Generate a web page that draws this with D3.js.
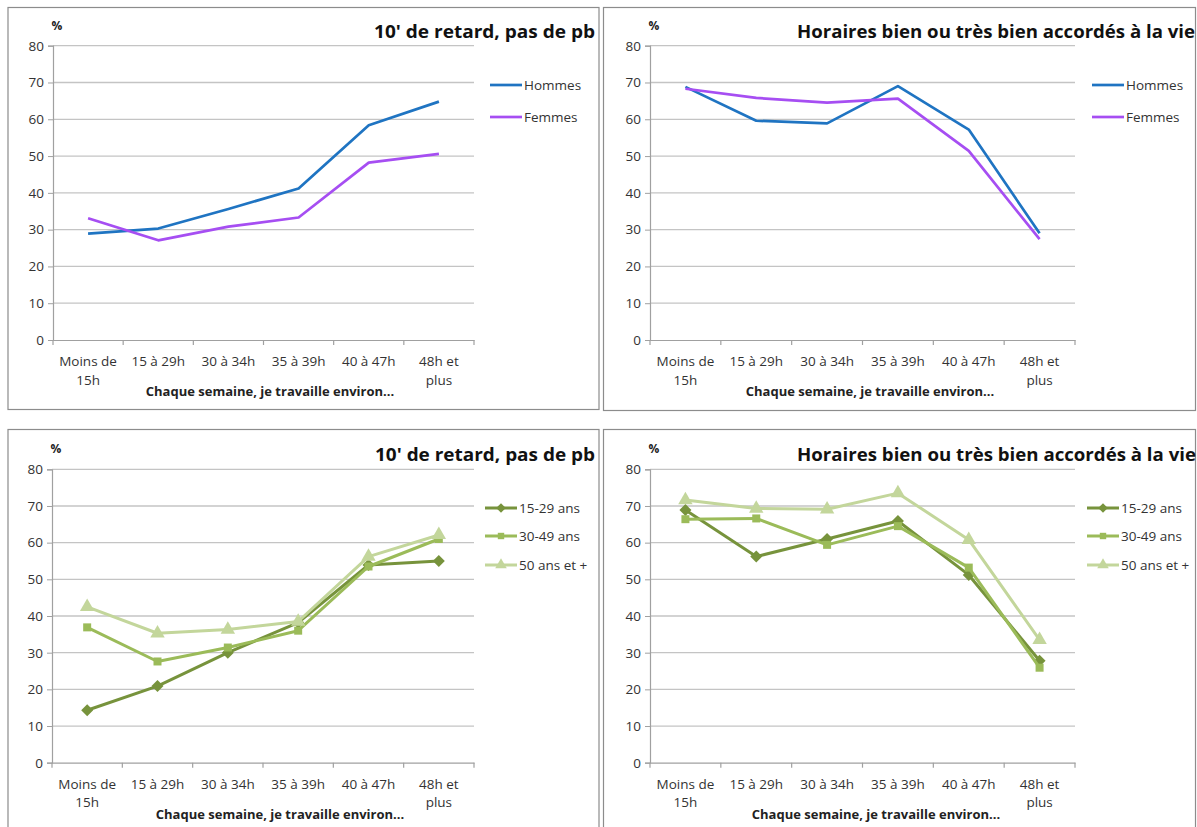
<!DOCTYPE html>
<html>
<head>
<meta charset="utf-8">
<script src="https://cdn.jsdelivr.net/npm/d3@7"></script>
<style>
  body { margin: 0; background: #fff; }
  svg { display: block; font-family: "Open Sans", "Noto Sans", sans-serif; }
</style>
</head>
<body>
<div id="chart"></div>
<script>
// categories (x axis), one entry per band
var categories = ["Moins de 15h", "15 à 29h", "30 à 34h", "35 à 39h", "40 à 47h", "48h et plus"];
var tickLines = [["Moins de", "15h"], ["15 à 29h"], ["30 à 34h"], ["35 à 39h"], ["40 à 47h"], ["48h et", "plus"]];
var yTicks = [0, 10, 20, 30, 40, 50, 60, 70, 80];

// 10' de retard, pas de pb
var hommesRetard = [28.9, 30.3, 35.6, 41.2, 58.4, 64.8];
var femmesRetard = [33.1, 27.1, 30.8, 33.3, 48.2, 50.6];
var age1529Retard = [14.3, 20.9, 30.0, 38.2, 53.9, 55.0];
var age3049Retard = [36.9, 27.6, 31.4, 36.0, 53.5, 61.0];
var age50Retard = [42.5, 35.3, 36.3, 38.5, 56.2, 62.1];

// Horaires bien ou très bien accordés à la vie
var hommesHoraires = [68.8, 59.6, 58.9, 69.0, 57.2, 29.0];
var femmesHoraires = [68.3, 65.8, 64.5, 65.6, 51.4, 27.4];
var age1529Horaires = [68.9, 56.2, 61.0, 65.9, 51.2, 27.8];
var age3049Horaires = [66.4, 66.6, 59.4, 64.5, 53.2, 25.9];
var age50Horaires = [71.6, 69.3, 69.1, 73.5, 60.8, 33.5];

var titleRetard = "10' de retard, pas de pb";
var titleHoraires = "Horaires bien ou très bien accordés à la vie";
var xTitle = "Chaque semaine, je travaille environ...";

var W = 1197, H = 827;
var svg = d3.select("#chart").append("svg")
  .attr("width", W).attr("height", H);

var panels = [
  {
    frame: [8, 7.5, 591, 402], plot: {left: 53, right: 474, top: 45.7, bottom: 340},
    title: titleRetard, titleW: 221, titleRight: 595, titleY: 38, xTitleX: 270,
    legendX: 490, legendY: [85, 117],
    series: [
      {name: "Hommes", values: hommesRetard, color: "#1f74c2", width: 2.7, marker: null},
      {name: "Femmes", values: femmesRetard, color: "#a64ef2", width: 2.7, marker: null}
    ]
  },
  {
    frame: [603.5, 7.5, 592, 403], plot: {left: 650, right: 1075, top: 45.7, bottom: 340},
    title: titleHoraires, titleW: 398, titleRight: 1195, titleY: 38, xTitleX: 870,
    legendX: 1092, legendY: [85, 117],
    series: [
      {name: "Hommes", values: hommesHoraires, color: "#1f74c2", width: 2.7, marker: null},
      {name: "Femmes", values: femmesHoraires, color: "#a64ef2", width: 2.7, marker: null}
    ]
  },
  {
    frame: [8, 429.5, 591, 420], plot: {left: 52, right: 474, top: 469.3, bottom: 762.7},
    title: titleRetard, titleW: 220, titleRight: 595, titleY: 461, xTitleX: 280,
    legendX: 485, legendY: [508, 536, 565],
    series: [
      {name: "15-29 ans", values: age1529Retard, color: "#77933c", width: 3, marker: "diamond"},
      {name: "30-49 ans", values: age3049Retard, color: "#9bbb59", width: 3, marker: "square"},
      {name: "50 ans et +", values: age50Retard, color: "#c3d69b", width: 3, marker: "triangle"}
    ]
  },
  {
    frame: [603.5, 429.5, 592, 420], plot: {left: 650, right: 1075, top: 469.3, bottom: 762.7},
    title: titleHoraires, titleW: 399, titleRight: 1196, titleY: 461, xTitleX: 876,
    legendX: 1087, legendY: [508, 536, 565],
    series: [
      {name: "15-29 ans", values: age1529Horaires, color: "#77933c", width: 3, marker: "diamond"},
      {name: "30-49 ans", values: age3049Horaires, color: "#9bbb59", width: 3, marker: "square"},
      {name: "50 ans et +", values: age50Horaires, color: "#c3d69b", width: 3, marker: "triangle"}
    ]
  }
];

// excel-like markers: diamond is a square turned 45 degrees
var symbols = {
  diamond: {path: d3.symbol().type(d3.symbolSquare).size(72)(), rotate: 45},
  square: {path: d3.symbol().type(d3.symbolSquare).size(64)(), rotate: 0},
  triangle: {path: d3.symbol().type(d3.symbolTriangle).size(90)(), rotate: 0}
};

panels.forEach(function(p) {
  var g = svg.append("g");
  var f = p.frame;

  g.append("rect")
    .attr("x", f[0]).attr("y", f[1]).attr("width", f[2]).attr("height", f[3])
    .attr("fill", "#fff").attr("stroke", "#8c8c8c").attr("stroke-width", 1.2);

  var x = d3.scaleBand().domain(categories).range([p.plot.left, p.plot.right]);
  var y = d3.scaleLinear().domain([0, 80]).range([p.plot.bottom, p.plot.top]);

  // gridlines
  g.append("g").selectAll("line").data(yTicks.slice(1)).enter().append("line")
    .attr("x1", p.plot.left).attr("x2", p.plot.right)
    .attr("y1", function(d) { return y(d); }).attr("y2", function(d) { return y(d); })
    .attr("stroke", "#c4c4c4").attr("stroke-width", 1.3);

  // y axis
  var yAxis = g.append("g")
    .attr("transform", "translate(" + p.plot.left + ",0)")
    .call(d3.axisLeft(y).tickValues(yTicks).tickSize(5).tickPadding(4));
  yAxis.select(".domain").attr("stroke", "#a0a0a0").attr("stroke-width", 1.2);
  yAxis.selectAll(".tick line").attr("stroke", "#a0a0a0");
  yAxis.selectAll("text").attr("font-size", 13.5).attr("fill", "#333")
    .attr("font-family", "'Open Sans', sans-serif");

  // x axis
  var xAxis = g.append("g")
    .attr("transform", "translate(0," + p.plot.bottom + ")")
    .call(d3.axisBottom(x).tickSize(0).tickFormat(""));
  xAxis.select(".domain").attr("stroke", "#a0a0a0").attr("stroke-width", 1.2);
  xAxis.selectAll(".tick").remove();
  // tick marks at band edges
  var edges = categories.map(function(c) { return x(c); }).concat([x.range()[1]]);
  xAxis.selectAll("line.edge").data(edges).enter().append("line")
    .attr("class", "edge")
    .attr("x1", function(d) { return d; }).attr("x2", function(d) { return d; })
    .attr("y1", 0).attr("y2", 5)
    .attr("stroke", "#a0a0a0").attr("stroke-width", 1.2);

  var labels = g.append("g").selectAll("text").data(categories).enter().append("text")
    .attr("x", function(c) { return x(c) + x.bandwidth() / 2; })
    .attr("y", p.plot.bottom + 26)
    .attr("text-anchor", "middle")
    .attr("font-size", 13.5)
    .attr("fill", "#333");
  labels.each(function(c, i) {
    var t = d3.select(this);
    tickLines[i].forEach(function(line, j) {
      t.append("tspan").attr("x", x(c) + x.bandwidth() / 2).attr("dy", j === 0 ? 0 : 18.5).text(line);
    });
  });

  // axis title, % label, chart title
  g.append("text")
    .attr("x", p.xTitleX).attr("y", p.plot.bottom + 56)
    .attr("text-anchor", "middle").attr("font-size", 13).attr("font-weight", "bold")
    .attr("fill", "#222").text(xTitle);

  g.append("text")
    .attr("x", p.plot.left + 4).attr("y", p.plot.top - 16)
    .attr("text-anchor", "middle").attr("font-size", 12).attr("font-weight", "bold")
    .attr("fill", "#222").text("%");

  g.append("text")
    .attr("x", p.titleRight - p.titleW).attr("y", p.titleY)
    .attr("font-size", 17.5).attr("font-weight", "bold").attr("fill", "#111")
    .attr("textLength", p.titleW).attr("lengthAdjust", "spacingAndGlyphs")
    .text(p.title);

  // lines + markers
  var line = d3.line()
    .x(function(d, i) { return x(categories[i]) + x.bandwidth() / 2; })
    .y(function(d) { return y(d); });

  p.series.forEach(function(s) {
    g.append("path").datum(s.values)
      .attr("d", line)
      .attr("fill", "none").attr("stroke", s.color).attr("stroke-width", s.width)
      .attr("stroke-linejoin", "round");
    if (s.marker) {
      var sym = symbols[s.marker];
      g.append("g").selectAll("path").data(s.values).enter().append("path")
        .attr("d", sym.path)
        .attr("transform", function(d, i) {
          return "translate(" + (x(categories[i]) + x.bandwidth() / 2) + "," + y(d) + ") rotate(" + sym.rotate + ")";
        })
        .attr("fill", s.color);
    }
  });

  // legend
  var lg = g.append("g");
  p.series.forEach(function(s, i) {
    var ly = p.legendY[i];
    lg.append("line")
      .attr("x1", p.legendX).attr("x2", p.legendX + 32)
      .attr("y1", ly).attr("y2", ly)
      .attr("stroke", s.color).attr("stroke-width", s.width);
    if (s.marker) {
      var sym = symbols[s.marker];
      lg.append("path").attr("d", sym.path)
        .attr("transform", "translate(" + (p.legendX + 16) + "," + ly + ") rotate(" + sym.rotate + ") scale(0.8)")
        .attr("fill", s.color);
    }
    lg.append("text")
      .attr("x", p.legendX + 34).attr("y", ly + 4.5)
      .attr("font-size", 13.5).attr("fill", "#333")
      .text(s.name);
  });
});
</script>
</body>
</html>
